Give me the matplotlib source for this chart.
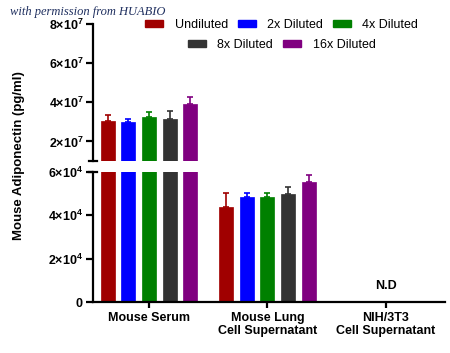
import numpy as np
import matplotlib
matplotlib.use("Agg")
import matplotlib.pyplot as plt
from matplotlib.patches import Patch
from matplotlib.ticker import FuncFormatter

plt.rcParams["font.family"] = ["Liberation Sans", "DejaVu Sans"]
plt.rcParams["mathtext.fontset"] = "custom"
plt.rcParams["mathtext.bf"] = "Liberation Sans:bold"
plt.rcParams["mathtext.rm"] = "Liberation Sans:bold"

# Daten
groups = ["Mouse Serum", "Mouse Lung\nCell Supernatant", "NIH/3T3\nCell Supernatant"]
dilutions = ["Undiluted", "2x Diluted", "4x Diluted", "8x Diluted", "16x Diluted"]
colors = ["#a00000", "#0000ff", "#008000", "#333333", "#800080"]

serum_mean = [3.05e7, 3.00e7, 3.27e7, 3.15e7, 3.90e7]
serum_err = [0.31e7, 0.17e7, 0.23e7, 0.41e7, 0.37e7]
lung_mean = [4.39e4, 4.87e4, 4.87e4, 4.99e4, 5.53e4]
lung_err = [0.66e4, 0.16e4, 0.16e4, 0.31e4, 0.33e4]

upper_ticks = [2e7, 4e7, 6e7, 8e7]
lower_ticks = [0, 2e4, 4e4, 6e4]

fig = plt.figure(figsize=(4.5, 3.53), dpi=100)
ax1 = fig.add_axes([0.2067, 0.5439, 0.7822, 0.388])
ax2 = fig.add_axes([0.2067, 0.1445, 0.7822, 0.368])

x = np.arange(2)
width = 0.118
step = 0.175
lw = 1.6

for ax in (ax1, ax2):
    for i, (lab, col) in enumerate(zip(dilutions, colors)):
        means = [serum_mean[i], lung_mean[i]]
        errs = [serum_err[i], lung_err[i]]
        pos = x + (i - 2) * step
        ax.bar(pos, means, width, color=col, edgecolor=col, linewidth=0.5)
        ax.errorbar(pos, means, yerr=[[0, 0], errs], fmt="none", ecolor=col,
                    elinewidth=1.2, capsize=2.5, capthick=1.2)
    ax.set_xlim(-0.473, 2.5)
    ax.spines[["top", "right"]].set_visible(False)
    ax.spines["left"].set_linewidth(lw)
    ax.spines["bottom"].set_linewidth(lw)
    ax.tick_params(axis="y", length=5, width=lw, pad=2)


def sci_fmt(v, pos):
    if v == 0:
        return r"$\mathbf{0}$"
    exp = int(np.floor(np.log10(v)))
    mant = int(round(v / 10**exp))
    return r"$\mathbf{%d{\times}10^{%d}}$" % (mant, exp)


ax1.set_ylim(1e7, 8e7)
ax1.set_yticks(upper_ticks)
ax1.yaxis.set_major_formatter(FuncFormatter(sci_fmt))
ax1.spines["bottom"].set_visible(False)
ax1.tick_params(axis="x", bottom=False, labelbottom=False)
ax1.tick_params(axis="y", labelsize=9)

ax2.set_ylim(0, 6e4)
ax2.set_yticks(lower_ticks)
ax2.yaxis.set_major_formatter(FuncFormatter(sci_fmt))
ax2.tick_params(axis="y", labelsize=9)
ax2.set_xticks(np.arange(3))
ax2.set_xticklabels(groups, fontsize=9, fontweight="bold", linespacing=1.1)
ax2.tick_params(axis="x", length=4, width=lw, pad=3)

# Achsenbruch-Markierungen
d = 0.011
ax1.plot([-d, d], [0, 0], transform=ax1.transAxes, color="k", lw=lw, clip_on=False)
ax2.plot([-d, d], [1, 1], transform=ax2.transAxes, color="k", lw=lw, clip_on=False)

ax2.text(2, 0.74e4, "N.D", ha="center", va="center", fontsize=9, fontweight="bold")

fig.text(0.042, 0.558, "Mouse Adiponectin (pg/ml)", rotation=90, ha="center",
         va="center", fontsize=9.5, fontweight="bold")

handles = [Patch(facecolor=c, edgecolor=c) for c in colors]
leg_kw = dict(loc="center", frameon=False, handlelength=1.45, handleheight=0.5,
              handletextpad=0.9, columnspacing=0.8, fontsize=9, borderpad=0)
fig.legend(handles[:3], dilutions[:3], ncol=3, bbox_to_anchor=(0.626, 0.929), **leg_kw)
fig.legend(handles[3:], dilutions[3:], ncol=2, bbox_to_anchor=(0.626, 0.873), **leg_kw)

fig.text(0.022, 0.966, "with permission from HUABIO", fontsize=9, style="italic",
         family=["Liberation Serif", "DejaVu Serif"], color="#1f2f5f", va="center")

fig.savefig("out.png", dpi=100)
